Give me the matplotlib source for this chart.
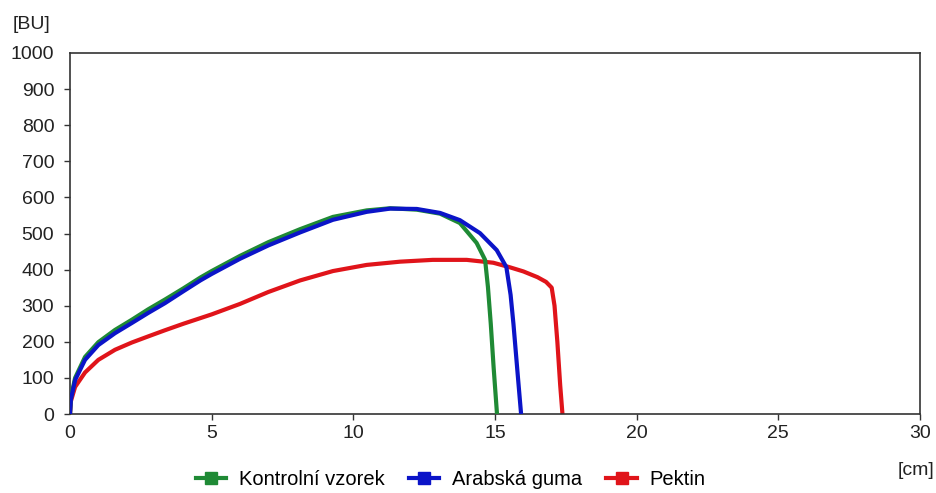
import matplotlib
matplotlib.use('Agg')
from matplotlib import pyplot as plt

# curve readings from the reference, x in cm, y in BU
ctrl_x = [0, 0.03, 0.18, 0.53, 1.0, 1.59, 2.18, 2.76, 3.35, 4.0, 4.6, 5.0, 6.0, 7.0, 8.12, 9.28,
          10.47, 11.3, 12.24, 13.06, 13.76, 14.35, 14.65, 14.75, 14.85, 14.95, 15.07]
ctrl_y = [0, 45, 100, 158, 199, 233, 261, 290, 317, 348, 378, 396, 438, 476, 512, 546,
          564, 570, 566, 555, 529, 474, 427, 352, 250, 130, 0]

guma_x = [0, 0.03, 0.18, 0.53, 1.0, 1.59, 2.18, 2.76, 3.35, 4.0, 4.6, 5.0, 6.0, 7.0, 8.12, 9.28,
          10.47, 11.3, 12.24, 13.06, 13.76, 14.47, 15.06, 15.4, 15.55, 15.65, 15.8, 15.92]
guma_y = [0, 40, 94, 150, 191, 224, 252, 280, 307, 340, 370, 388, 430, 467, 503, 538,
          560, 569, 568, 557, 537, 501, 454, 407, 330, 250, 110, 0]

pektin_x = [0, 0.03, 0.18, 0.53, 1.0, 1.59, 2.18, 2.76, 3.35, 4.0, 5.0, 6.0, 7.0, 8.12, 9.28,
            10.47, 11.65, 12.8, 14.0, 14.94, 15.5, 16.0, 16.5, 16.8, 17.0, 17.1, 17.2, 17.3, 17.38]
pektin_y = [0, 35, 75, 115, 150, 178, 198, 215, 232, 250, 276, 305, 338, 370, 396,
            413, 422, 427, 427, 419, 407, 395, 379, 366, 350, 300, 200, 80, 0]

labels = ['Kontrolní vzorek', 'Arabská guma', 'Pektin']
colors = ['#1f8a35', '#0b14c8', '#e0141a']

plt.rcParams['font.family'] = ['Liberation Sans', 'DejaVu Sans']

fig = plt.figure(figsize=(9.37, 4.93), dpi=100)
ax = fig.add_axes([0.0747, 0.1602, 0.9072, 0.7323])

series = [(ctrl_x, ctrl_y), (guma_x, guma_y), (pektin_x, pektin_y)]
zorders = [3, 4, 2]
handles = []
for (xs, ys), lab, col, z in zip(series, labels, colors, zorders):
    ax.plot(xs, ys, color=col, lw=3, zorder=z, solid_capstyle='butt', solid_joinstyle='round')
    # legend handle: line with square marker
    h, = ax.plot([], [], color=col, lw=3, marker='s', markersize=8, label=lab)
    handles.append(h)

ax.set_xlim(0, 30)
ax.set_ylim(0, 1000)
ax.set_xticks(range(0, 31, 5))
ax.set_yticks(range(0, 1001, 100))
ax.tick_params(axis='both', length=4.3, width=1, color='#333333', labelsize=14, labelcolor='#222222')
ax.tick_params(axis='y', pad=7)
ax.tick_params(axis='x', pad=3.6)
ax.yaxis.get_major_ticks()[-1].tick1line.set_visible(False)
ax.xaxis.get_major_ticks()[0].tick1line.set_visible(False)
for sp in ax.spines.values():
    sp.set_color('#333333')
    sp.set_linewidth(1.2)

fig.text(0.013, 0.951, '[BU]', fontsize=14, color='#222222', va='center', ha='left')
fig.text(0.997, 0.045, '[cm]', fontsize=14, color='#222222', va='center', ha='right')

fig.legend(handles=handles, loc='center', bbox_to_anchor=(0.481, 0.027), ncol=3, frameon=False,
           fontsize=14.5, handlelength=1.5, handletextpad=0.65, columnspacing=1.2,
           borderpad=0, borderaxespad=0)

fig.savefig('out.png', dpi=100, facecolor='white')
